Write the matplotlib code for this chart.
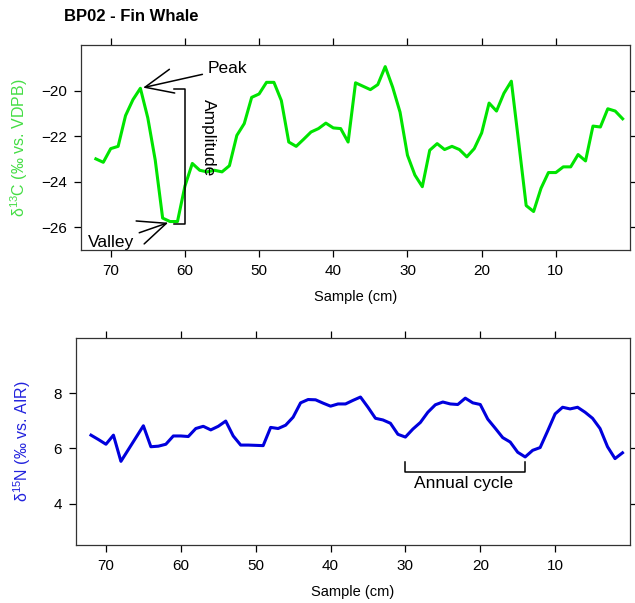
import numpy as np
import matplotlib
matplotlib.use("Agg")
import matplotlib.pyplot as plt

plt.rcParams['font.family'] = ['Liberation Sans', 'DejaVu Sans']
plt.rcParams['mathtext.fontset'] = 'custom'
plt.rcParams['mathtext.rm'] = 'Liberation Sans'

# Sample positions (cm), from 72 down to 1
sample_cm = np.arange(72, 0, -1)

# d13C values (top panel)
d13c = [-23.0, -23.15, -22.55, -22.45, -21.1, -20.4, -19.9, -21.2, -23.05, -25.6,
        -25.75, -25.75, -24.2, -23.2, -23.5, -23.57, -23.5, -23.57, -23.3, -21.97,
        -21.45, -20.3, -20.15, -19.64, -19.64, -20.44, -22.26, -22.45, -22.14, -21.82,
        -21.67, -21.43, -21.64, -21.67, -22.26, -19.66, -19.81, -19.96, -19.74, -18.95,
        -19.85, -20.95, -22.84, -23.71, -24.22, -22.62, -22.33, -22.59, -22.45, -22.59,
        -22.91, -22.55, -21.86, -20.55, -20.9, -20.12, -19.59, -22.3, -25.05, -25.31,
        -24.29, -23.6, -23.6, -23.35, -23.35, -22.81, -23.09, -21.56, -21.6, -20.8,
        -20.9, -21.24]

# d15N values (bottom panel)
d15n = [6.48, 6.32, 6.15, 6.48, 5.53, 5.96, 6.39, 6.82, 6.06, 6.08,
        6.15, 6.45, 6.45, 6.43, 6.72, 6.80, 6.67, 6.80, 6.99, 6.45,
        6.12, 6.12, 6.11, 6.10, 6.76, 6.72, 6.84, 7.13, 7.65, 7.77,
        7.76, 7.64, 7.53, 7.61, 7.61, 7.74, 7.86, 7.49, 7.09, 7.03,
        6.91, 6.51, 6.41, 6.70, 6.94, 7.31, 7.58, 7.68, 7.61, 7.59,
        7.82, 7.65, 7.59, 7.06, 6.73, 6.39, 6.23, 5.86, 5.69, 5.93,
        6.03, 6.63, 7.25, 7.49, 7.43, 7.49, 7.31, 7.09, 6.72, 6.06,
        5.63, 5.84]

x_ticks = [70, 60, 50, 40, 30, 20, 10]
c_ticks = [-20, -22, -24, -26]
n_ticks = [8, 6, 4]

green = '#00e400'
blue = '#0000dd'

fig = plt.figure(figsize=(6.35, 6.03), dpi=100)
ax1 = fig.add_axes([0.1276, 0.5854, 0.8646, 0.34])
ax2 = fig.add_axes([0.1197, 0.0962, 0.8724, 0.3433])

for ax in (ax1, ax2):
    ax.set_xlim(74, 0)
    ax.set_xticks(x_ticks)
    ax.tick_params(direction='out', length=5, width=0.9, labelsize=11,
                   top=True, right=True, labeltop=False, labelright=False, pad=5)
    for s in ax.spines.values():
        s.set_linewidth(0.9)
        s.set_color('#333333')
    ax.set_xlabel('Sample (cm)', fontsize=10.5, labelpad=9)

# Top panel: d13C
ax1.plot(sample_cm, d13c, color=green, lw=2.2)
ax1.set_ylim(-27, -18)
ax1.set_yticks(c_ticks)
ax1.set_yticklabels(['\u221220', '\u221222', '\u221224', '\u221226'])
ax1.set_ylabel('\u03b4$^{\\rm 13}$C (‰ vs. VDPB)', color='#44dd44', fontsize=11.5, labelpad=8)
fig.text(0.1, 0.973, 'BP02 - Fin Whale', fontsize=12, fontweight='bold', va='center')

arrow = dict(arrowstyle='->,head_length=1.6,head_width=0.7', color='black', lw=1.1)
ax1.annotate('Peak', xy=(66, -19.9), xytext=(56.9, -19.04), fontsize=12.5,
             va='center', ha='left', arrowprops=arrow)
ax1.annotate('Valley', xy=(61.9, -25.76), xytext=(70, -26.68), fontsize=12.5,
             va='center', ha='center', arrowprops=dict(arrow, shrinkA=2))
# amplitude bracket
ax1.plot([61.5, 60, 60, 61.5], [-19.93, -19.93, -25.85, -25.85], color='black', lw=1.1)
ax1.text(56.8, -22.05, 'Amplitude', rotation=-90, fontsize=12.5, ha='center', va='center')

# Bottom panel: d15N
ax2.plot(sample_cm, d15n, color=blue, lw=2.2)
ax2.set_ylim(2.5, 10)
ax2.set_yticks(n_ticks)
ax2.set_ylabel('\u03b4$^{\\rm 15}$N (‰ vs. AIR)', color='#2222dd', fontsize=11.5, labelpad=15)
# annual cycle bracket
ax2.plot([30, 30, 14, 14], [5.52, 5.13, 5.13, 5.52], color='black', lw=1.1)
ax2.text(22.2, 4.72, 'Annual cycle', fontsize=12.5, ha='center', va='center')

fig.savefig('out.png', dpi=100)
